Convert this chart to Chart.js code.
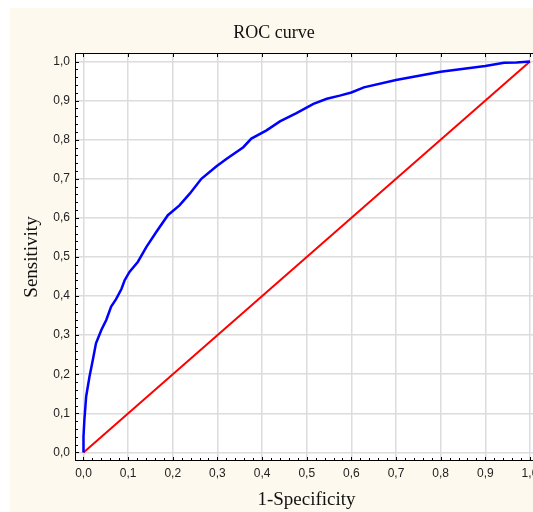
<!DOCTYPE html>
<html lang="en">
<head>
  <meta charset="UTF-8">
  <title>ROC curve</title>
  <script src="https://cdn.jsdelivr.net/npm/chart.js"></script>
  <style>
    html, body {
      margin: 0;
      background: #ffffff;
      overflow: hidden;
    }
    .panel {
      position: absolute;
      left: 10px;
      top: 8px;
      width: 530px;
      height: 504px;
      background: #fdf9ee;
    }
  </style>
</head>
<body>
  <div class="panel">
    <canvas id="roc" width="530" height="504"></canvas>
  </div>

  <script>
    // ROC curve (1-specificity, sensitivity)
    const rocFpr = [0, 0, 0.002, 0.006, 0.0135, 0.021, 0.028, 0.040, 0.051, 0.062,
      0.073, 0.085, 0.092, 0.103, 0.122, 0.141, 0.163, 0.189, 0.215, 0.238,
      0.264, 0.298, 0.320, 0.358, 0.376, 0.410, 0.440, 0.477, 0.515, 0.545,
      0.574, 0.600, 0.628, 0.700, 0.800, 0.900, 0.942, 0.970, 1.0];
    const rocTpr = [0, 0.04, 0.083, 0.143, 0.194, 0.237, 0.279, 0.313, 0.339, 0.373,
      0.392, 0.418, 0.440, 0.462, 0.488, 0.526, 0.564, 0.607, 0.632, 0.662,
      0.700, 0.732, 0.751, 0.781, 0.803, 0.824, 0.847, 0.868, 0.892, 0.905,
      0.913, 0.921, 0.934, 0.953, 0.974, 0.989, 0.997, 0.998, 1.0];

    // reference diagonal
    const refFpr = [0, 1];
    const refTpr = [0, 1];

    const tickValues = [0, 0.1, 0.2, 0.3, 0.4, 0.5, 0.6, 0.7, 0.8, 0.9, 1.0];

    const toPoints = (xs, ys) => xs.map((v, i) => ({ x: v, y: ys[i] }));
    const fmt = v => v.toFixed(1).replace('.', ',');
    const tickFont = { family: 'Liberation Sans, Arial, sans-serif', size: 12 };
    const titleFont = { family: 'Liberation Serif, Times New Roman, serif', size: 19 };

    // white plot area, black frame and the small inside ticks
    const frame = {
      id: 'frame',
      beforeDraw(chart) {
        const { ctx, chartArea: a } = chart;
        ctx.save();
        ctx.fillStyle = '#ffffff';
        ctx.fillRect(a.left, a.top, a.right - a.left, a.bottom - a.top);
        ctx.restore();
      },
      afterDraw(chart) {
        const { ctx, chartArea: a, scales: { x, y } } = chart;
        ctx.save();
        ctx.strokeStyle = '#000000';
        ctx.lineWidth = 1;
        ctx.strokeRect(Math.round(a.left) + 0.5, Math.round(a.top) + 0.5,
          Math.round(a.right - a.left) - 1, Math.round(a.bottom - a.top) - 1);
        ctx.beginPath();
        for (let i = 0; i <= 50; i++) {
          const v = i / 50;
          const major = i % 5 === 0;
          const len = major ? 4 : 3;
          const px = Math.round(x.getPixelForValue(v)) + 0.5;
          const py = Math.round(y.getPixelForValue(v)) + 0.5;
          ctx.moveTo(px, a.bottom);
          ctx.lineTo(px, a.bottom - len);
          ctx.moveTo(a.left, py);
          ctx.lineTo(a.left + len, py);
          if (major) {
            ctx.moveTo(px, a.top);
            ctx.lineTo(px, a.top + len);
            ctx.moveTo(a.right, py);
            ctx.lineTo(a.right - len, py);
          }
        }
        ctx.stroke();
        ctx.restore();
      }
    };

    new Chart(document.getElementById('roc'), {
      type: 'scatter',
      data: {
        datasets: [
          {
            label: 'ROC',
            data: toPoints(rocFpr, rocTpr),
            showLine: true,
            borderColor: '#0000ff',
            borderWidth: 2.5,
            pointRadius: 0,
            tension: 0
          },
          {
            label: 'Reference',
            data: toPoints(refFpr, refTpr),
            showLine: true,
            borderColor: '#ff0000',
            borderWidth: 2,
            pointRadius: 0
          }
        ]
      },
      options: {
        responsive: false,
        animation: false,
        devicePixelRatio: 1,
        layout: { padding: { left: 0, right: 2, top: 0, bottom: 0 } },
        plugins: {
          legend: { display: false },
          tooltip: { enabled: false },
          title: {
            display: true,
            text: 'ROC curve',
            color: '#111111',
            font: { family: titleFont.family, size: 18, weight: 'normal' },
            padding: { top: 14.7, bottom: 8.7 }
          }
        },
        scales: {
          x: {
            type: 'linear',
            min: -0.019,
            max: 1.018,
            afterBuildTicks: s => { s.ticks = tickValues.map(v => ({ value: v })); },
            afterFit: s => { s.height = 51; s.paddingLeft = 0; s.paddingRight = 0; },
            ticks: { callback: fmt, color: '#222222', font: tickFont, padding: 5, maxRotation: 0 },
            grid: { color: '#dcdcdc', lineWidth: 1.5, drawTicks: false },
            border: { display: false },
            title: {
              display: true,
              text: '1-Specificity',
              color: '#111111',
              font: titleFont,
              padding: { top: 0, bottom: 1 }
            }
          },
          y: {
            type: 'linear',
            min: -0.022,
            max: 1.022,
            afterBuildTicks: s => { s.ticks = tickValues.map(v => ({ value: v })); },
            afterFit: s => { s.width = 65; s.paddingTop = 0; s.paddingBottom = 0; },
            ticks: { callback: fmt, color: '#222222', font: tickFont, padding: 5 },
            grid: { color: '#dcdcdc', lineWidth: 1.5, drawTicks: false },
            border: { display: false },
            title: {
              display: true,
              text: 'Sensitivity',
              color: '#111111',
              font: titleFont,
              padding: { top: 10.6, bottom: 0 }
            }
          }
        }
      },
      plugins: [frame]
    });
  </script>
</body>
</html>
